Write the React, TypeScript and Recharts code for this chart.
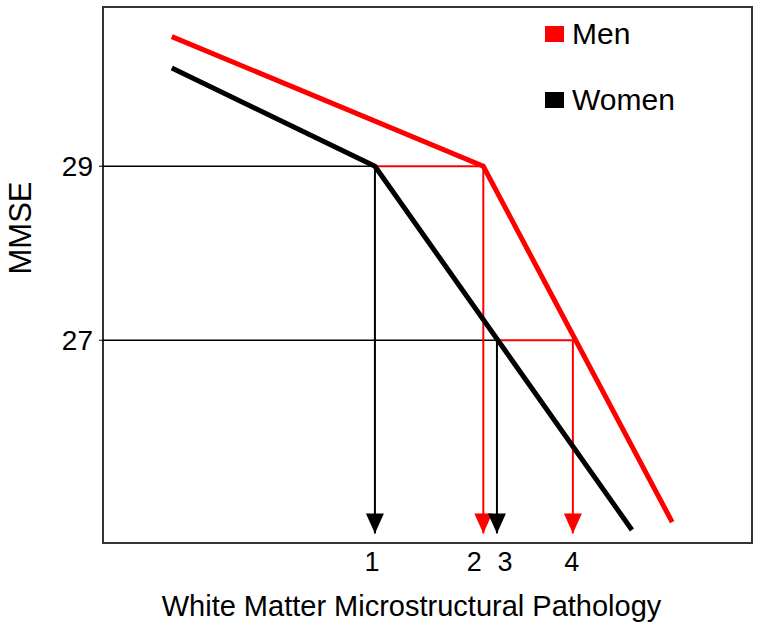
import React from "react";
import {
  LineChart,
  Line,
  XAxis,
  YAxis,
  ReferenceArea,
  Legend,
  Label,
} from "recharts";

// x is in arbitrary pathology units (0-100), y is MMSE
const menX = [10.6, 58.6, 87.7];
const menY = [30.49, 29, 24.91];
const womenX = [10.6, 41.9, 81.5];
const womenY = [30.13, 29, 24.82];

const xTickValues = [41.9, 58.6, 60.7, 72.4];
const xTickLabels = ["1", "2", "3", "4"];
const yTickValues = [27, 29];

// drop lines: [x1, y1, x2, y2, colour, arrow]
const guides: [number, number, number, number, string, boolean][] = [
  [0, 29, 41.9, 29, "#000", false],
  [41.9, 29, 58.6, 29, "#ff0000", false],
  [0, 27, 60.7, 27, "#000", false],
  [60.7, 27, 72.4, 27, "#ff0000", false],
  [41.9, 29, 41.9, 24.78, "#000", true],
  [58.6, 29, 58.6, 24.78, "#ff0000", true],
  [60.7, 27, 60.7, 24.78, "#000", true],
  [72.4, 27, 72.4, 24.78, "#ff0000", true],
];

const legendItems = [
  { name: "Men", color: "#ff0000" },
  { name: "Women", color: "#000000" },
];

const FONT = "'Liberation Sans', Arial, sans-serif";
// nudge the close "2" and "3" labels apart
const tickNudge = [-3, -9, 8, -1];

const toPoints = (xs: number[], ys: number[]) =>
  xs.map((x, i) => ({ x, y: ys[i] }));

const arrowDot = (color: string, n: number) => (props: any) => {
  const { cx, cy, index } = props;
  if (index !== n - 1) return <g key={`d${index}`} />;
  return (
    <polygon
      key={`d${index}`}
      points={`${cx},${cy} ${cx - 9},${cy - 20} ${cx + 9},${cy - 20}`}
      fill={color}
    />
  );
};

const XTick = (props: any) => {
  const { x, y, payload, index } = props;
  return (
    <text
      x={x + (tickNudge[index] || 0)}
      y={y + 20}
      textAnchor="middle"
      fill="#000"
      fontSize={27}
      fontFamily={FONT}
    >
      {xTickLabels[xTickValues.indexOf(payload.value)]}
    </text>
  );
};

function LegendBox() {
  return (
    <div style={{ fontFamily: FONT }}>
      {legendItems.map((it) => (
        <div
          key={it.name}
          style={{ display: "flex", alignItems: "center", height: 38, marginBottom: 28 }}
        >
          <span
            style={{
              display: "inline-block",
              width: 19,
              height: 16,
              background: it.color,
              marginRight: 8,
            }}
          />
          <span style={{ fontSize: 30, color: "#000" }}>{it.name}</span>
        </div>
      ))}
    </div>
  );
}

export default function App() {
  return (
    <div style={{ position: "absolute", left: 0, top: 0, background: "#fff" }}>
      <LineChart
        width={770}
        height={632}
        margin={{ top: 7, right: 18, left: 0, bottom: 0 }}
      >
        <XAxis
          dataKey="x"
          type="number"
          domain={[0, 100]}
          ticks={xTickValues}
          interval={0}
          height={89}
          axisLine={false}
          tickLine={false}
          tick={<XTick />}
          allowDataOverflow
        >
          <Label
            value="White Matter Microstructural Pathology"
            position="insideBottom"
            offset={16}
            dx={-16}
            style={{ fill: "#000", fontSize: 29, fontFamily: FONT }}
          />
        </XAxis>
        <YAxis
          dataKey="y"
          type="number"
          domain={[24.67, 30.83]}
          ticks={yTickValues}
          width={103}
          axisLine={false}
          tickLine={{ stroke: "#000" }}
          tickSize={4}
          tick={{ fill: "#000", fontSize: 28, fontFamily: FONT }}
          tickMargin={6}
          allowDataOverflow
        >
          <Label
            content={({ viewBox }: any) => {
              const lx = viewBox.x + 31;
              const ly = viewBox.y + viewBox.height / 2 - 47;
              return (
                <text
                  x={lx}
                  y={ly}
                  transform={`rotate(-90, ${lx}, ${ly})`}
                  textAnchor="middle"
                  fill="#000"
                  fontSize={31}
                  fontFamily={FONT}
                >
                  MMSE
                </text>
              );
            }}
          />
        </YAxis>
        <ReferenceArea
          x1={0}
          x2={100}
          y1={24.67}
          y2={30.83}
          fill="none"
          stroke="#333"
          strokeWidth={2}
          ifOverflow="visible"
        />
        {guides.map(([x1, y1, x2, y2, color, arrow], i) => (
          <Line
            key={`g${i}`}
            data={[
              { x: x1, y: y1 },
              { x: x2, y: y2 },
            ]}
            dataKey="y"
            type="linear"
            stroke={color}
            strokeWidth={color === "#000" && !arrow ? 1.3 : 2}
            dot={arrow ? arrowDot(color, 2) : false}
            activeDot={false}
            isAnimationActive={false}
            legendType="none"
          />
        ))}
        <Line
          data={toPoints(womenX, womenY)}
          dataKey="y"
          name="Women"
          type="linear"
          stroke="#000"
          strokeWidth={5}
          dot={false}
          activeDot={false}
          isAnimationActive={false}
        />
        <Line
          data={toPoints(menX, menY)}
          dataKey="y"
          name="Men"
          type="linear"
          stroke="#ff0000"
          strokeWidth={5}
          dot={false}
          activeDot={false}
          isAnimationActive={false}
        />
        <Legend
          content={() => <LegendBox />}
          layout="horizontal"
          verticalAlign="middle"
          align="center"
          wrapperStyle={{ top: 15, left: 545, width: 200 }}
        />
      </LineChart>
    </div>
  );
}
